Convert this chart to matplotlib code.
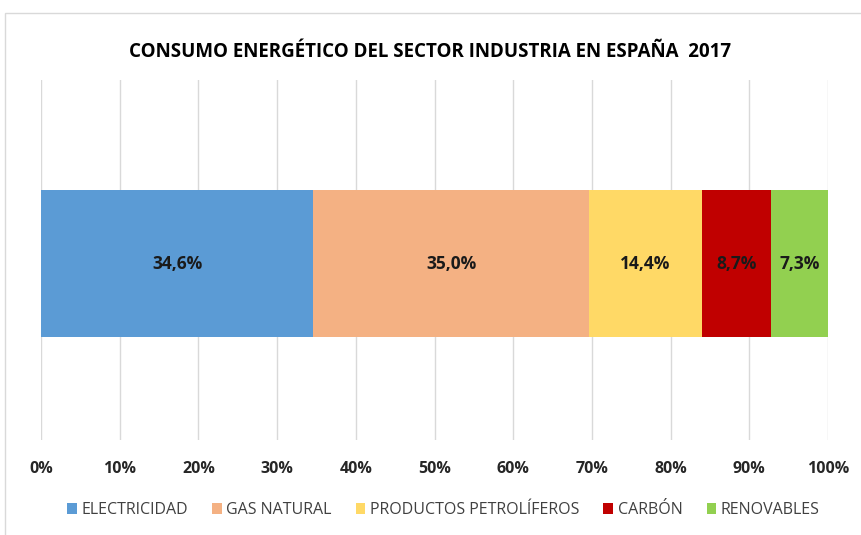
import matplotlib.pyplot as plt
from matplotlib.patches import Rectangle

categories = ['ELECTRICIDAD', 'GAS NATURAL', 'PRODUCTOS PETROLÍFEROS', 'CARBÓN', 'RENOVABLES']
values = [34.6, 35.0, 14.4, 8.7, 7.3]
labels = ['34,6%', '35,0%', '14,4%', '8,7%', '7,3%']
colors = ['#5b9bd5', '#f4b183', '#ffd966', '#c00000', '#92d050']
ticks = list(range(0, 101, 10))

plt.rcParams['font.family'] = ['Open Sans', 'DejaVu Sans']

fig = plt.figure(figsize=(8.61, 5.35), dpi=100)
ax = fig.add_axes([41 / 861, 1 - 440 / 535, (828 - 41) / 861, 360 / 535])

# outer chart frame
fig.patches.append(Rectangle((5 / 861, -0.1), 1.1, 1 - 13 / 535 + 0.1,
                             transform=fig.transFigure, fill=False,
                             edgecolor='#d9d9d9', linewidth=1))

left = 0
for cat, v, lab, c in zip(categories, values, labels, colors):
    ax.barh(0, v, left=left, height=0.41, color=c, label=cat, zorder=3)
    ax.text(left + v / 2, 0, lab, ha='center', va='center',
            fontsize=12.5, fontweight='bold', color='#1a1a1a', zorder=4)
    left += v

ax.set_xlim(0, 100)
ax.set_ylim(-0.49, 0.51)
ax.set_xticks(ticks)
ax.set_xticklabels([f'{t}%' for t in ticks], fontsize=11.5, fontweight='bold', color='#262626')
ax.set_yticks([])
ax.grid(axis='x', color='#d9d9d9', linewidth=1, zorder=0)
ax.tick_params(axis='x', length=0, pad=15)
for s in ax.spines.values():
    s.set_visible(False)

fig.text(0.5, 1 - 52 / 535, 'CONSUMO ENERGÉTICO DEL SECTOR INDUSTRIA EN ESPAÑA  2017',
         ha='center', va='center', fontsize=13.5, fontweight='bold', color='#000000')

fig.legend(loc='center', bbox_to_anchor=(0.515, 1 - 510 / 535), ncol=5, frameon=False,
           fontsize=11.5, handlelength=0.6, handleheight=0.7, handletextpad=0.3,
           columnspacing=1.5, labelcolor='#404040')

plt.savefig('out.png', dpi=100)
